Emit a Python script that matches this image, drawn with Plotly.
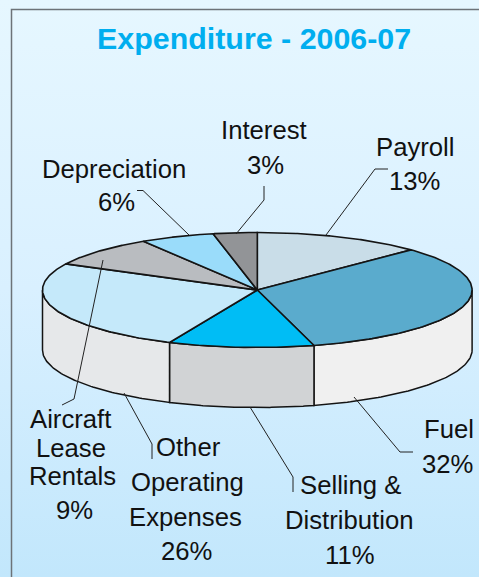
import numpy as np
import plotly.graph_objects as go

# ---- data ----
categories = ["Payroll", "Fuel", "Selling & Distribution", "Other Operating Expenses",
              "Aircraft Lease Rentals", "Depreciation", "Interest"]
slice_shares = [12.7, 33.05, 10.95, 25.8, 8.6, 5.6, 3.3]   # share as drawn
printed_percent = [13, 32, 11, 26, 9, 6, 3]               # share as printed
top_colors = ["#c9dde8", "#5aabcd", "#00bdf5", "#c5e9fa", "#b9bcc0", "#9adcfa", "#929497"]
side_colors = ["#f0f0f0", "#f0f0f0", "#d1d3d5", "#e6e8ea", "#e6e8ea", "#e6e8ea", "#e6e8ea"]

label_lines = [["Payroll"], ["Fuel"], ["Selling &", "Distribution"], ["Other", "Operating", "Expenses"],
               ["Aircraft", "Lease", "Rentals"], ["Depreciation"], ["Interest"]]
label_xy = [
    [(415, 147), (414, 181)],
    [(449, 429), (447, 464)],
    [(350, 485), (349, 520), (350, 555)],
    [(188, 447), (187, 482), (185, 517), (186, 551)],
    [(70, 419), (71, 448), (72, 476), (74, 510)],
    [(114, 169), (116, 202)],
    [(264, 130), (265, 165)],
]
leaders = [
    [(326, 235), (375, 169), (388, 169)],
    [(354, 397), (400, 452), (413, 452)],
    [(250, 407), (293, 477), (293, 492)],
    [(124, 393), (152, 444), (152, 459)],
    [(103, 260), (74, 399), (62, 405)],
    [(189, 235), (143, 190.5), (137, 190.5)],
    [(236, 234), (264, 200), (264, 186)],
]
title_text = "Expenditure - 2006-07"

# ---- geometry of the tilted disc ----
W, H = 479, 577
CX, CY, RX, RY, DEPTH = 257.3, 290.0, 214.8, 57.5, 60.0
INK = "#141414"


def rim(theta):
    return CX + RX * np.sin(theta), CY - RY * np.cos(theta)


edges = np.radians(np.cumsum([0] + slice_shares) * 3.6)

fig = go.Figure()

# page background
fig.add_trace(go.Scatter(
    x=[0, W, W, 0, 0], y=[0, 0, H, H, 0], mode="lines", line=dict(width=0),
    fill="toself", hoverinfo="skip", showlegend=False,
    fillgradient=dict(type="vertical", colorscale=[[0, "#c2e7fc"], [0.5, "#d9f0ff"], [1, "#e6f7ff"]]),
))
# frame
fig.add_trace(go.Scatter(x=[11.5, 11.5, W], y=[H, 9.5, 9.5], mode="lines",
                         line=dict(color="#6d7378", width=1.5), hoverinfo="skip", showlegend=False))

# side wall, front half only
for i, name in enumerate(categories):
    a0, a1 = max(edges[i], np.pi / 2), min(edges[i + 1], 3 * np.pi / 2)
    if a1 <= a0:
        continue
    t = np.linspace(a0, a1, 80)
    x, y = rim(t)
    fig.add_trace(go.Scatter(
        x=np.r_[x, x[::-1], x[0]], y=np.r_[y, y[::-1] + DEPTH, y[0]], mode="lines",
        fill="toself", fillcolor=side_colors[i], line=dict(color=INK, width=1.5),
        name=name, hoverinfo="name", showlegend=False))

# top face
for i, name in enumerate(categories):
    t = np.linspace(edges[i], edges[i + 1], 120)
    x, y = rim(t)
    fig.add_trace(go.Scatter(
        x=np.r_[CX, x, CX], y=np.r_[CY, y, CY], mode="lines",
        fill="toself", fillcolor=top_colors[i], line=dict(color=INK, width=1.6),
        name=name, hoverinfo="name", showlegend=False))

# leader lines
for pts in leaders:
    fig.add_trace(go.Scatter(x=[p[0] for p in pts], y=[p[1] for p in pts], mode="lines",
                             line=dict(color="#222222", width=1), hoverinfo="skip", showlegend=False))

# labels
ann = [dict(x=253.5, y=38, text=f"<b>{title_text}</b>", showarrow=False, xanchor="center", yanchor="middle",
            font=dict(family="Liberation Sans", size=30.4, color="#00aeef"))]
for lines, pct, xy in zip(label_lines, printed_percent, label_xy):
    for txt, (lx, ly) in zip(lines + [f"{pct}%"], xy):
        ann.append(dict(x=lx, y=ly, text=txt, showarrow=False, xanchor="center", yanchor="middle",
                        font=dict(family="Liberation Sans", size=25.7, color="#111111")))

fig.update_layout(
    width=W, height=H, margin=dict(l=0, r=0, t=0, b=0),
    paper_bgcolor="#d9f0ff", plot_bgcolor="rgba(0,0,0,0)",
    xaxis=dict(range=[0, W], visible=False, fixedrange=True),
    yaxis=dict(range=[H, 0], visible=False, fixedrange=True),
    annotations=ann, showlegend=False,
)
fig.write_html("out.html", config={"displayModeBar": False},
               post_script="document.body.style.margin='0';document.documentElement.style.overflow='hidden';")
